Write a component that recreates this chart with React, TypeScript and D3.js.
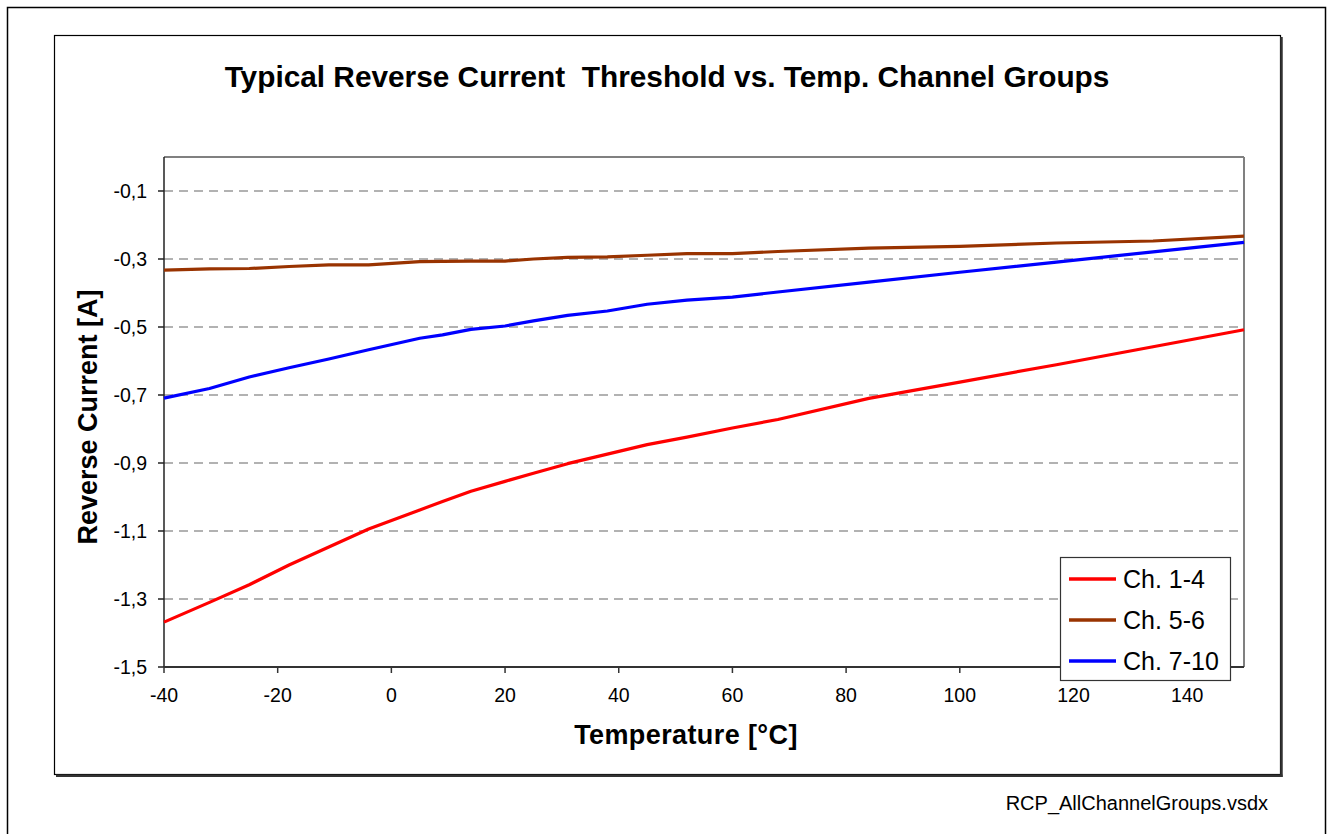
import React from "react";
import * as d3 from "d3";

const temps = [-40, -32, -25, -18, -11, -4, 5, 9, 14, 20, 25, 31, 38, 45, 52, 60, 68, 84, 100, 117, 134, 150];
const ch14 = [-1.368, -1.31, -1.258, -1.2, -1.147, -1.094, -1.038, -1.013, -0.983, -0.954, -0.93, -0.902, -0.874, -0.846, -0.824, -0.797, -0.772, -0.71, -0.662, -0.611, -0.558, -0.508];
const ch56 = [-0.333, -0.329, -0.328, -0.322, -0.317, -0.317, -0.308, -0.307, -0.306, -0.306, -0.3, -0.295, -0.294, -0.289, -0.284, -0.284, -0.278, -0.268, -0.263, -0.253, -0.247, -0.233];
const ch710 = [-0.709, -0.681, -0.647, -0.62, -0.594, -0.567, -0.533, -0.523, -0.507, -0.497, -0.482, -0.466, -0.453, -0.433, -0.421, -0.412, -0.397, -0.368, -0.339, -0.309, -0.279, -0.251];

const seriesNames = ["Ch. 1-4", "Ch. 5-6", "Ch. 7-10"];
const seriesColors = ["#ff0000", "#993300", "#0000ff"];
const seriesValues = [ch14, ch56, ch710];

const xTicks = [-40, -20, 0, 20, 40, 60, 80, 100, 120, 140];
const yTicks = [-0.1, -0.3, -0.5, -0.7, -0.9, -1.1, -1.3, -1.5];

const titleText = "Typical Reverse Current  Threshold vs. Temp. Channel Groups";
const xLabel = "Temperature [°C]";
const yLabel = "Reverse Current [A]";
const footer = "RCP_AllChannelGroups.vsdx";

const FONT = "'Liberation Sans', Arial, Helvetica, sans-serif";

export default function App() {
  const W = 1333;
  const H = 834;
  const left = 164;
  const right = 1244;
  const top = 157;
  const bottom = 667;

  const x = d3.scaleLinear().domain([-40, 150]).range([left, right]);
  const y = d3.scaleLinear().domain([-1.5, 0]).range([bottom, top]);

  const line = d3
    .line<[number, number]>()
    .x((d) => x(d[0]))
    .y((d) => y(d[1]));

  const fmt = (v: number) => d3.format(".1f")(v).replace(".", ",").replace("−", "-");

  return (
    <svg
      width={W}
      height={H}
      style={{ position: "absolute", left: 0, top: 0, background: "#fff" }}
      fontFamily={FONT}
    >
      <rect x={0} y={0} width={W} height={H} fill="#fff" />
      {/* outer frame */}
      <rect x={7.5} y={7.5} width={1318} height={860} fill="none" stroke="#000" strokeWidth={1.5} />
      {/* chart frame with shadow */}
      <rect x={54.5} y={35.5} width={1226} height={739} fill="#fff" stroke="#000" strokeWidth={1.2} />
      <line x1={1281.5} y1={37} x2={1281.5} y2={777} stroke="#333" strokeWidth={2.5} />
      <line x1={56} y1={775.8} x2={1282.5} y2={775.8} stroke="#333" strokeWidth={2.5} />

      {/* title */}
      <text
        x={667}
        y={87}
        textAnchor="middle"
        fontSize={29.8}
        fontWeight="bold"
        style={{ whiteSpace: "pre" }}
      >
        {titleText}
      </text>

      {/* plot border */}
      <line x1={left} y1={top} x2={right} y2={top} stroke="#808080" strokeWidth={2} />
      <line x1={right} y1={top} x2={right} y2={bottom} stroke="#808080" strokeWidth={2} />

      {/* gridlines */}
      {yTicks
        .filter((t) => t > -1.5)
        .map((t) => (
          <line
            key={"g" + t}
            x1={left}
            x2={right}
            y1={y(t)}
            y2={y(t)}
            stroke="#666"
            strokeWidth={1.2}
            strokeDasharray="9,6"
          />
        ))}

      {/* axes */}
      <line x1={left} y1={top} x2={left} y2={bottom} stroke="#222" strokeWidth={1.5} />
      <line x1={left} y1={bottom} x2={right} y2={bottom} stroke="#333" strokeWidth={2} />

      {yTicks.map((t) => (
        <g key={"yt" + t}>
          <line x1={left - 6} x2={left} y1={y(t)} y2={y(t)} stroke="#222" strokeWidth={1.5} />
          <text x={147} y={y(t) + 7} textAnchor="end" fontSize={19.5}>
            {fmt(t)}
          </text>
        </g>
      ))}
      {xTicks.map((t) => (
        <g key={"xt" + t}>
          <line x1={x(t)} x2={x(t)} y1={bottom} y2={bottom + 6} stroke="#333" strokeWidth={1.5} />
          <text x={x(t)} y={702} textAnchor="middle" fontSize={19.5}>
            {String(t)}
          </text>
        </g>
      ))}

      {/* series */}
      {seriesValues.map((vals, i) => (
        <path
          key={"s" + i}
          d={line(temps.map((t, j) => [t, vals[j]] as [number, number])) || ""}
          fill="none"
          stroke={seriesColors[i]}
          strokeWidth={3.2}
          strokeLinejoin="round"
        />
      ))}

      {/* axis labels */}
      <text x={686} y={744} textAnchor="middle" fontSize={27} fontWeight="bold" letterSpacing={0.4}>
        {xLabel}
      </text>
      <text
        transform={`translate(97, 417) rotate(-90)`}
        textAnchor="middle"
        fontSize={27}
        fontWeight="bold"
      >
        {yLabel}
      </text>

      {/* legend */}
      <rect x={1060.5} y={557.5} width={170} height={123} fill="#fff" stroke="#333" strokeWidth={1.2} />
      {seriesNames.map((n, i) => (
        <g key={"l" + i}>
          <line
            x1={1069}
            x2={1116}
            y1={579 + i * 41}
            y2={579 + i * 41}
            stroke={seriesColors[i]}
            strokeWidth={3.5}
          />
          <text x={1123} y={588 + i * 41} fontSize={25}>
            {n}
          </text>
        </g>
      ))}

      {/* footer */}
      <text x={1268} y={810} textAnchor="end" fontSize={20}>
        {footer}
      </text>
    </svg>
  );
}
